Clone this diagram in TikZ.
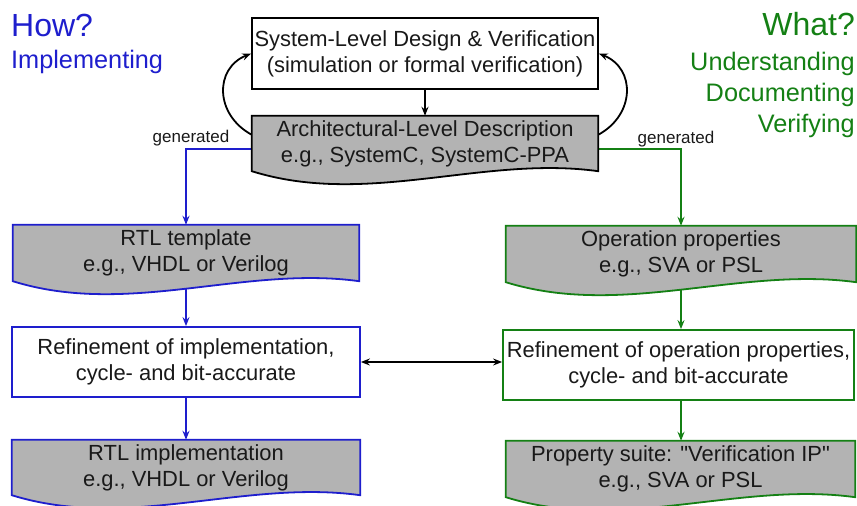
\documentclass[tikz,border=0pt]{standalone}
\usepackage{fontspec}
\setmainfont{Liberation Sans}[Ligatures=TeXOff]
\usetikzlibrary{arrows.meta,calc,backgrounds}

\definecolor{implblue}{RGB}{30,30,205}
\definecolor{verigreen}{RGB}{20,128,20}
\definecolor{docgray}{RGB}{179,179,179}
\definecolor{inktext}{RGB}{25,25,25}

\tikzset{
  boxtext/.style={align=center, inner sep=0pt, text=inktext,
    font=\fontsize{21.9}{26}\selectfont},
  plainbox/.style={boxtext, rectangle, draw, fill=white, line width=1.8pt},
  docnode/.style={boxtext, rectangle},
  docshape/.style={fill=docgray, line width=1.8pt, line join=miter},
  arr/.style={-{Stealth[length=9pt,width=7pt,inset=3pt]}, line width=1.8pt},
  dblarr/.style={{Stealth[length=9pt,width=7pt,inset=3pt]}-{Stealth[length=9pt,width=7pt,inset=3pt]}, line width=1.6pt},
  genlabel/.style={anchor=base, inner sep=0pt, text=inktext,
    font=\fontsize{17}{20}\selectfont},
  headbig/.style={inner sep=0pt, font=\fontsize{32}{38}\selectfont},
  headsmall/.style={inner sep=0pt, font=\fontsize{25.3}{30}\selectfont},
}

% document outline: straight top and sides, wavy bottom edge
\newcommand\docoutline[2]{%
  \draw[docshape, draw=#2]
    (#1.south west) -- (#1.north west) -- (#1.north east) -- (#1.south east)
    .. controls ($(#1.south east)!1/3!(#1.south west)+(0,-16)$)
            and ($(#1.south east)!2/3!(#1.south west)+(0,36)$)
    .. (#1.south west) -- cycle;}

\begin{document}
\begin{tikzpicture}[x=1pt,y=-1pt]
\useasboundingbox (0,0) rectangle (857,506);

% side headings
\node[headbig, anchor=base west, text=implblue] (how) at (11,36) {How?};
\node[headsmall, anchor=base west, text=implblue] (impl) at (11,68) {Implementing};
\node[headbig, anchor=base east, text=verigreen] (what) at (855,35) {What?};
\node[headsmall, anchor=base east, text=verigreen] (under) at (855,70) {Understanding};
\node[headsmall, anchor=base east, text=verigreen] (docu) at (855,101) {Documenting};
\node[headsmall, anchor=base east, text=verigreen] (veri) at (855,132) {Verifying};

% top level
\node[plainbox, minimum width=346, minimum height=71] (sys) at (425,53.5)
  {System-Level Design \& Verification\\(simulation or formal verification)};
\node[docnode, minimum width=346, minimum height=55] (arch) at (425,143.5)
  {Architectural-Level Description\\e.g., SystemC, SystemC-PPA};

% implementation column
\node[docnode, minimum width=346, minimum height=56] (rtlt) at (186,253)
  {RTL template\\e.g., VHDL or Verilog};
\node[plainbox, draw=implblue, minimum width=348, minimum height=70] (refi) at (186,362)
  {Refinement of implementation,\\cycle- and bit-accurate};
\node[docnode, minimum width=348, minimum height=55] (rtli) at (186,467.5)
  {RTL implementation\\e.g., VHDL or Verilog};

% verification column
\node[docnode, minimum width=350, minimum height=56] (opp) at (681,254)
  {Operation properties\\e.g., SVA or PSL};
\node[plainbox, draw=verigreen, minimum width=351, minimum height=70] (refo) at (678.5,365)
  {Refinement of operation properties,\\cycle- and bit-accurate};
\node[docnode, minimum width=349, minimum height=56] (prop) at (680.5,469)
  {Property suite: "Verification IP"\\e.g., SVA or PSL};

% labels on the generation paths
\node[genlabel] (genl) at (191,142) {generated};
\node[genlabel] (genr) at (676,143) {generated};

\begin{pgfonlayer}{background}
  \clip (0,0) rectangle (857,506);
  % connectors (below the document shapes)
  \draw[arr] (sys.south) -- (arch.north);
  \draw[arr] ([yshift=-19pt]arch.north west) .. controls +(-37,-20) and +(-37,15) .. (sys.west);
  \draw[arr] ([yshift=-19pt]arch.north east) .. controls +(37,-20) and +(37,15) .. (sys.east);
  \draw[arr, implblue] ([yshift=-5.5pt]arch.west) -| (rtlt.north);
  \draw[arr, verigreen] ([yshift=-5.5pt]arch.east) -| (opp.north);
  \draw[arr, implblue] (rtlt.south) -- (rtlt.south |- refi.north);
  \draw[arr, implblue] (refi.south) -- (refi.south |- rtli.north);
  \draw[arr, verigreen] (opp.south) -- (opp.south |- refo.north);
  \draw[arr, verigreen] (opp.south |- refo.south) -- (opp.south |- prop.north);
  \draw[dblarr] (refi.east) -- (refi.east -| refo.west);
  % document shapes
  \docoutline{arch}{black}
  \docoutline{rtlt}{implblue}
  \docoutline{rtli}{implblue}
  \docoutline{opp}{verigreen}
  \docoutline{prop}{verigreen}
\end{pgfonlayer}
\end{tikzpicture}
\end{document}
